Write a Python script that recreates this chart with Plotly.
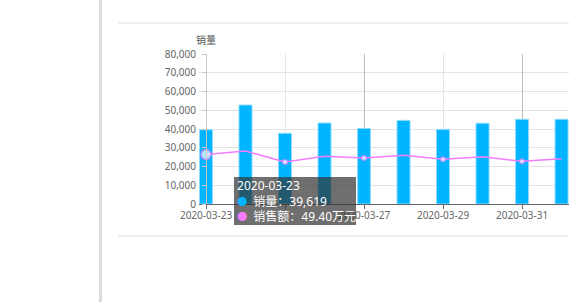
import plotly.graph_objects as go

dates = ["2020-03-23", "2020-03-24", "2020-03-25", "2020-03-26", "2020-03-27",
         "2020-03-28", "2020-03-29", "2020-03-30", "2020-03-31", "2020-04-01"]
sales_volume = [39619, 52800, 37700, 43200, 40300, 44600, 39800, 43100, 45200, 45200]
sales_amount = [49.40, 53.0, 42.0, 47.7, 46.0, 48.7, 44.7, 47.3, 42.7, 45.3]  # 万元
tick_dates = ["2020-03-23", "2020-03-25", "2020-03-27", "2020-03-29", "2020-03-31"]
tick_labels = ["2020-03-23", "", "2020-03-27", "2020-03-29", "2020-03-31"]  # 03-25 is hidden under the tooltip

W, H = 569, 302
L, R, T, B = 199, 0, 54, 98
PW = W - L - R
PH = H - T - B


def px_x(p):
    return (p - L) / PW


def px_y(p):
    return (H - B - p) / PH


BAR_COLOR = "#00b4ff"
LINE_COLOR = "#f47cff"
FONT = "Noto Sans, Noto Sans CJK SC, sans-serif"

n = len(dates)
marker_sizes = [10 if i == 0 else (5 if i % 2 == 0 else 0) for i in range(n)]
marker_lw = [1.5 if i == 0 else (1.2 if i % 2 == 0 else 0) for i in range(n)]

fig = go.Figure()
fig.add_trace(go.Bar(
    x=dates, y=sales_volume, name="销量",
    marker=dict(color=BAR_COLOR, line=dict(color="#8fdcff", width=1)),
    width=0.33 * 86400000,
    hoverinfo="skip",
))
fig.add_trace(go.Scatter(
    x=dates, y=sales_amount, name="销售额", yaxis="y2",
    mode="lines+markers",
    line=dict(color=LINE_COLOR, width=1.5),
    marker=dict(size=marker_sizes, color="white",
                line=dict(color=LINE_COLOR, width=marker_lw)),
    hoverinfo="skip", cliponaxis=False,
))

x_range = ["2020-03-22 19:45", "2020-04-01 04:32"]

fig.update_layout(
    width=W, height=H,
    margin=dict(l=L, r=R, t=T, b=B, pad=0),
    paper_bgcolor="white", plot_bgcolor="white",
    showlegend=False,
    font=dict(family=FONT, size=10, color="#666"),
    xaxis=dict(
        type="date", range=x_range,
        tickvals=tick_dates, ticktext=tick_labels,
        showgrid=True, gridcolor="#e6e6e6", gridwidth=1,
        showline=True, linecolor="#666", linewidth=1,
        ticks="outside", ticklen=4, tickcolor="#666",
        ticklabelstandoff=-2,
        tickfont=dict(size=10, color="#666"),
        zeroline=False, fixedrange=True,
    ),
    xaxis3=dict(
        type="date", overlaying="x", matches="x", range=x_range,
        tick0="2020-03-27", dtick=4 * 86400000,
        showgrid=True, gridcolor="#bdbdbd", gridwidth=1,
        showticklabels=False, showline=False, ticks="",
        zeroline=False,
    ),
    yaxis=dict(
        range=[0, 80000], dtick=10000, tickformat=",d",
        anchor="free", position=px_x(206),
        showgrid=True, gridcolor="#e3e3e3", gridwidth=1,
        showline=True, linecolor="#c8c8c8", linewidth=1,
        ticks="outside", ticklen=4, tickcolor="#c8c8c8",
        ticklabelstandoff=4,
        tickfont=dict(size=10, color="#666"),
        zeroline=False, fixedrange=True,
    ),
    yaxis2=dict(
        range=[0, 150], overlaying="y", side="right",
        showgrid=False, showticklabels=False, showline=False,
        ticks="", zeroline=False,
    ),
)

# invisible trace to activate the overlaying x-axis for darker grid lines
fig.add_trace(go.Scatter(x=[dates[0]], y=[0], xaxis="x3", mode="markers",
                         marker=dict(size=0, opacity=0), hoverinfo="skip",
                         showlegend=False))

# y-axis title
fig.add_annotation(text="销量", xref="paper", yref="paper",
                   x=px_x(206), y=px_y(40), xanchor="center", yanchor="middle",
                   showarrow=False, font=dict(size=10, color="#555", family=FONT))

# tooltip
dot = "&nbsp;<span style='color:{c};font-size:10px'>●</span>&nbsp;&nbsp;"
tip = ("&nbsp;2020-03-23<br>"
       + dot.format(c=BAR_COLOR) + f"销量：{sales_volume[0]:,}<br>"
       + dot.format(c=LINE_COLOR) + f"销售额：{sales_amount[0]:.2f}万元")
fig.add_annotation(text=tip, xref="paper", yref="paper",
                   x=px_x(234), y=px_y(177), xanchor="left", yanchor="top",
                   showarrow=False, align="left",
                   width=122,
                   bgcolor="rgba(50,50,50,0.7)", borderpad=0, borderwidth=0,
                   font=dict(size=12, color="white", family=FONT))

# page decorations
fig.add_shape(type="rect", xref="paper", yref="paper",
              x0=px_x(99), x1=px_x(102), y0=px_y(302), y1=px_y(0),
              fillcolor="#dcdcdc", line=dict(width=0), layer="below")
for yy in (23, 236):
    fig.add_shape(type="line", xref="paper", yref="paper",
                  x0=px_x(118), x1=1.0, y0=px_y(yy), y1=px_y(yy),
                  line=dict(color="#ebebeb", width=1.5), layer="below")

fig.write_html("out.html")
